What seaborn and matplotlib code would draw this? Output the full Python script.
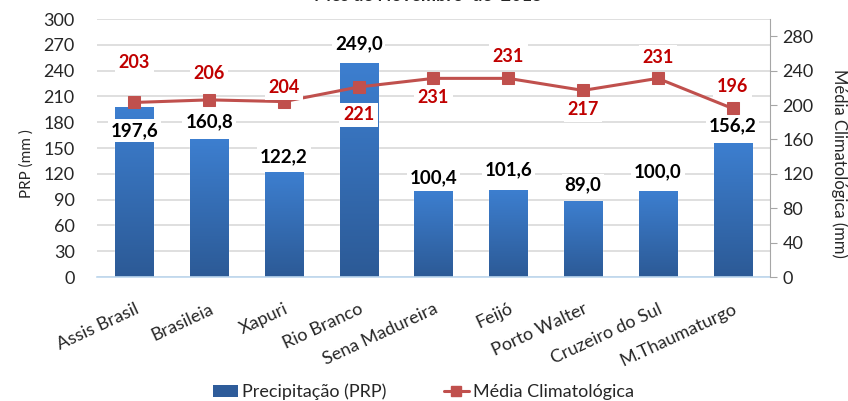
import numpy as np
import pandas as pd
import matplotlib
matplotlib.use('Agg')
import matplotlib.pyplot as plt
import seaborn as sns
from matplotlib.colors import LinearSegmentedColormap
from matplotlib.lines import Line2D
from matplotlib.patches import Patch

# dados
estacoes = ['Assis Brasil', 'Brasileia', 'Xapuri', 'Rio Branco', 'Sena Madureira',
            'Feijó', 'Porto Walter', 'Cruzeiro do Sul', 'M.Thaumaturgo']
prp = [197.6, 160.8, 122.2, 249.0, 100.4, 101.6, 89.0, 100.0, 156.2]
media_clim = [203, 206, 204, 221, 231, 231, 217, 231, 196]

# deslocamento dos rótulos (em pontos)
off_prp = [-17, 12, 11, 14, 9, 14, 11, 14, 12]
off_clim = [29, 19, 10, -20, -14, 16, -14, 15, 16]

df = pd.DataFrame({'estacao': estacoes, 'prp': prp, 'media': media_clim})

sns.set_style('white')
plt.rcParams['font.family'] = ['Lato', 'DejaVu Sans']

fig = plt.figure(figsize=(8.48, 4.01), dpi=100)
ax = fig.add_axes([0.1144, 0.309, 0.7936, 0.6436])

sns.barplot(data=df, x='estacao', y='prp', color='#3A78C8', width=0.51,
            saturation=1, ax=ax, zorder=2)

# gradiente nas barras
cmap = LinearSegmentedColormap.from_list('g', ['#2C5A96', '#3D7FD0'])
grad = np.linspace(0, 1, 256).reshape(-1, 1)
for p in ax.patches:
    x0, y0 = p.get_x(), p.get_y()
    w, h = p.get_width(), p.get_height()
    im = ax.imshow(grad, extent=[x0, x0 + w, y0, y0 + h], origin='lower',
                   cmap=cmap, aspect='auto', zorder=2.1)
    im.set_clip_path(p)

ax.set_xlim(-0.5, len(estacoes) - 0.5)
ax.set_ylim(0, 300)
ax.set_yticks(range(0, 301, 30))
ax.yaxis.grid(True, color='#D9D9D9', lw=1.2, zorder=0)
ax.set_axisbelow(True)
for s in ['left', 'top', 'right']:
    ax.spines[s].set_visible(False)
ax.spines['bottom'].set_color('#BDD7EE')
ax.spines['bottom'].set_linewidth(1.2)
ax.tick_params(axis='y', length=0, labelsize=13, pad=16)
ax.tick_params(axis='x', length=0, labelsize=13, pad=17)
plt.setp(ax.get_xticklabels(), rotation=25, ha='right', rotation_mode='anchor')
ax.set_xlabel('')
ax.set_ylabel('PRP (mm )', fontsize=11)
ax.yaxis.set_label_coords(-0.094, 0.44)

for i, v in enumerate(prp):
    ax.annotate(f'{v:.1f}'.replace('.', ','), (i, v), xytext=(0, off_prp[i]),
                textcoords='offset points', ha='center', va='center',
                fontsize=13.5, fontweight='bold', color='black', zorder=5,
                bbox=dict(boxstyle='square,pad=0.15', fc='white', ec='none'))

ax2 = ax.twinx()
sns.lineplot(data=df, x='estacao', y='media', sort=False, color='#C0504D', lw=2.2,
             marker='s', markersize=8, markeredgecolor='#C0504D', ax=ax2, zorder=4)
ax2.set_ylim(0, 300)
ax2.set_yticks(range(0, 281, 40))
for s in ['left', 'top', 'bottom']:
    ax2.spines[s].set_visible(False)
ax2.spines['right'].set_color('#A6A6A6')
ax2.tick_params(axis='y', length=5, color='#A6A6A6', labelsize=13, pad=4, direction='out')
ax2.set_xlabel('')
ax2.set_ylabel('Média Climatológica (mm)', fontsize=12, rotation=270)
ax2.yaxis.set_label_coords(1.115, 0.44)

for i, v in enumerate(media_clim):
    ax2.annotate(str(v), (i, v), xytext=(0, off_clim[i]), textcoords='offset points',
                 ha='center', va='center', fontsize=13, fontweight='bold',
                 color='#C00000', zorder=6,
                 bbox=dict(boxstyle='square,pad=0.2', fc='white', ec='none'))

fig.text(0.505, 1.012, 'Mês de Novembro  de  2015', ha='center', va='center',
         fontsize=13, fontweight='bold')

handles = [Patch(facecolor='#2E5C9A', edgecolor='none'),
           Line2D([0], [0], color='#C0504D', lw=2.2, marker='s', markersize=7)]
fig.legend(handles, ['Precipitação (PRP)', 'Média Climatológica'], loc='center',
           bbox_to_anchor=(0.499, 0.022), ncol=2, frameon=False, fontsize=13,
           handlelength=1.4, handletextpad=0.2, columnspacing=3.2)

fig.savefig('out.png', dpi=100)
